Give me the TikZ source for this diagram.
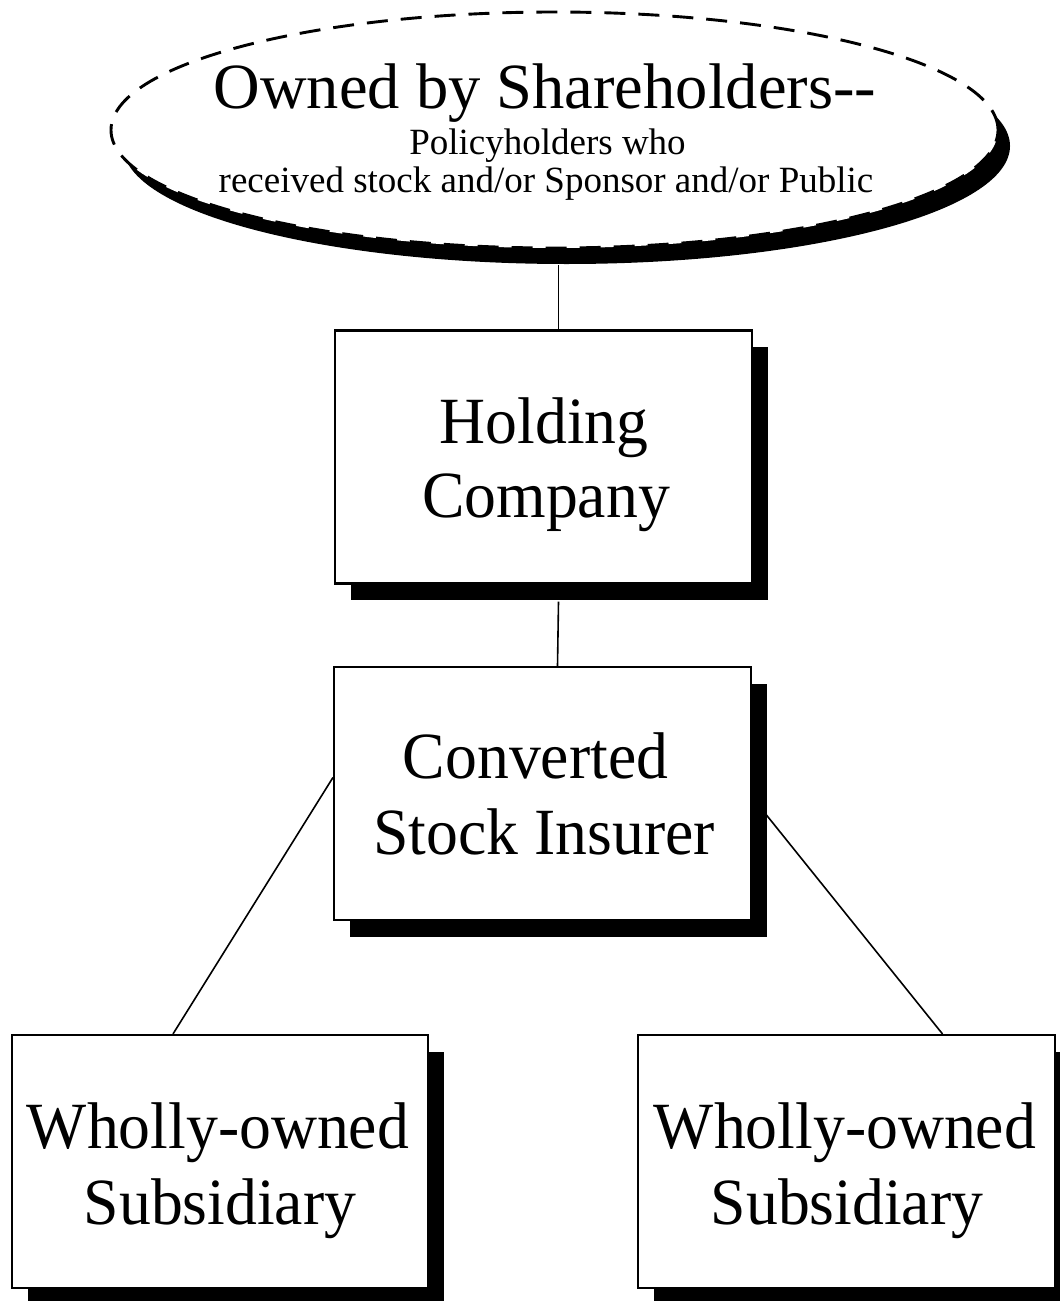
\documentclass[tikz,border=0pt]{standalone}
\usepackage{fontspec}
\setmainfont{Liberation Serif}
\usetikzlibrary{shapes.geometric,shadows}
\begin{document}
\begin{tikzpicture}[x=1pt,y=-1pt,
  orgbox/.style={draw=black, line width=2.1pt, fill=white, rectangle, inner sep=0pt,
    minimum width=417pt, minimum height=253pt,
    general shadow={fill=black, shadow xshift=16pt, shadow yshift=-16.5pt}},
  boxtext/.style={anchor=base, inner sep=0pt, font=\fontsize{66}{75}\selectfont, xscale=0.965, transform shape},
  owner/.style={draw=black, line width=2.9pt, dash pattern=on 21pt off 13pt, fill=white, ellipse, inner sep=0pt,
    minimum width=887pt, minimum height=236pt,
    general shadow={fill=black, shadow xshift=12pt, shadow yshift=-16pt}},
  bigtext/.style={anchor=base, inner sep=0pt, font=\fontsize{64.5}{70}\selectfont},
  smalltext/.style={anchor=base, inner sep=0pt, font=\fontsize{37}{40}\selectfont},
  link/.style={draw=black, line width=1.6pt}]
\useasboundingbox (0,0) rectangle (1060,1301);
\fill[white] (0,0) rectangle (1060,1301);
\node[owner] (own) at (554.5,130) {};
\node[bigtext] (t1) at (545,108) {Owned by Shareholders-{}-};
\node[smalltext] (t2) at (547.5,154) {Policyholders who};
\node[smalltext] (t3) at (546,192) {received stock and/or Sponsor and/or Public};
\node[orgbox] (hold) at (543.5,457) {};
\node[boxtext] (holda) at (544,443) {Holding};
\node[boxtext] (holdb) at (546,517) {Company};
\node[orgbox, minimum width=417pt, minimum height=253pt] (conv) at (542.5,793.5) {};
\node[boxtext] (conva) at (535.5,778) {Converted};
\node[boxtext] (convb) at (544,854) {Stock Insurer};
\node[orgbox, minimum width=416pt] (subl) at (220,1161.5) {};
\node[boxtext] (subla) at (218,1148) {Wholly-owned};
\node[boxtext] (sublb) at (220,1224) {Subsidiary};
\node[orgbox] (subr) at (846.5,1161.5) {};
\node[boxtext] (subra) at (845,1148) {Wholly-owned};
\node[boxtext] (subrb) at (847,1224) {Subsidiary};
\draw[link] ([xshift=15pt]hold.north) -- ([xshift=15pt,yshift=-16pt]hold.north |- own.south);
\draw[link] ([xshift=15pt,yshift=-17pt]hold.south) -- ([xshift=15pt]conv.north);
\draw[link] ([yshift=16pt]conv.west) -- ([xshift=-47pt]subl.north);
\draw[link] ([xshift=14pt,yshift=-21pt]conv.east) -- ([xshift=96pt]subr.north);
\end{tikzpicture}
\end{document}
